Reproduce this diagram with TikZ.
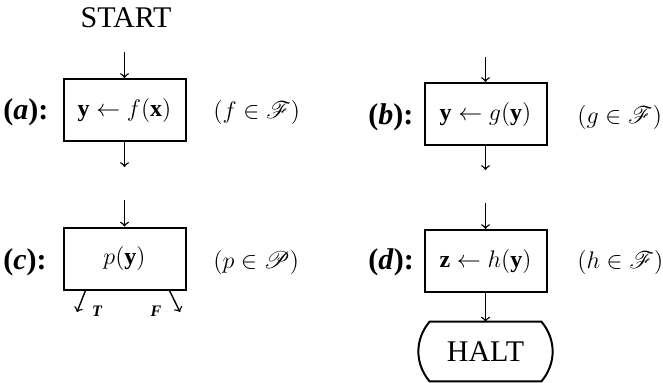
\documentclass[tikz,border=0pt]{standalone}
\usepackage{amsmath}
\usepackage{mathrsfs}
\usepackage{fontspec}
\setmainfont{Liberation Serif}
\newcommand\labelsize{\fontsize{15}{18}\selectfont}

\tikzset{
  instr/.style={draw, line width=1pt, minimum width=61pt, minimum height=31pt, inner sep=0pt, font=\large},
  tag/.style={font=\labelsize\bfseries, anchor=west, inner sep=0pt},
  cond/.style={font=\large, anchor=west, inner sep=0pt},
  flow/.style={->, line width=0.7pt},
  branch/.style={font=\footnotesize\bfseries\itshape}
}

\begin{document}
\begin{tikzpicture}[x=0.5pt, y=-0.5pt, >=to]
  \useasboundingbox (0,0) rectangle (663,382);

  % (a) assignment from input
  \node[font=\labelsize] (start) at (126,18) {START};
  \coordinate (ain) at (124.5,52);
  \node[instr] (a) at (124.5,110) {$\mathbf{y}\leftarrow f(\mathbf{x})$};
  \coordinate (aout) at (124.5,167);
  \node[tag] (la) at (3,112) {(\textit{a}):};
  \node[cond] (ca) at (213,112) {$(f\in\mathscr{F})$};
  \draw[flow] (ain) -- (a);
  \draw[flow] (a) -- (aout);

  % (b) assignment
  \coordinate (bin) at (485.5,57);
  \node[instr] (b) at (485.5,114) {$\mathbf{y}\leftarrow g(\mathbf{y})$};
  \coordinate (bout) at (485.5,170);
  \node[tag] (lb) at (368,117) {(\textit{b}):};
  \node[cond] (cb) at (577,117) {$(g\in\mathscr{F})$};
  \draw[flow] (bin) -- (b);
  \draw[flow] (b) -- (bout);

  % (c) test
  \coordinate (cin) at (124.5,200);
  \node[instr] (c) at (124.5,258.5) {$p(\mathbf{y})$};
  \coordinate (cT) at (77,312);
  \coordinate (cF) at (180,312);
  \node[tag] (lc) at (3,262) {(\textit{c}):};
  \node[cond] (cc) at (213,262) {$(p\in\mathscr{P})$};
  \draw[flow] (cin) -- (c);
  \draw[flow] ([xshift=11.5pt]c.south west) -- (cT);
  \draw[flow] ([xshift=-8.5pt]c.south east) -- (cF);
  \node[branch] (t) at (97,311) {T};
  \node[branch] (f) at (156,311) {F};

  % (d) output and halt
  \coordinate (din) at (485.5,203);
  \node[instr] (d) at (485.5,261) {$\mathbf{z}\leftarrow h(\mathbf{y})$};
  \node[tag] (ld) at (368,262) {(\textit{d}):};
  \node[cond] (cd) at (577,262) {$(h\in\mathscr{F})$};
  \node[font=\labelsize, minimum width=61.5pt, minimum height=29.5pt, inner sep=0pt] (halt) at (485.5,351.5) {HALT};
  \draw[line width=1pt] ([xshift=3pt]halt.north west) -- ([xshift=-3pt]halt.north east)
    to[bend left=40] ([xshift=-3pt]halt.south east) -- ([xshift=3pt]halt.south west)
    to[bend left=40] cycle;
  \draw[flow] (din) -- (d);
  \draw[flow] (d) -- (halt);
\end{tikzpicture}
\end{document}
